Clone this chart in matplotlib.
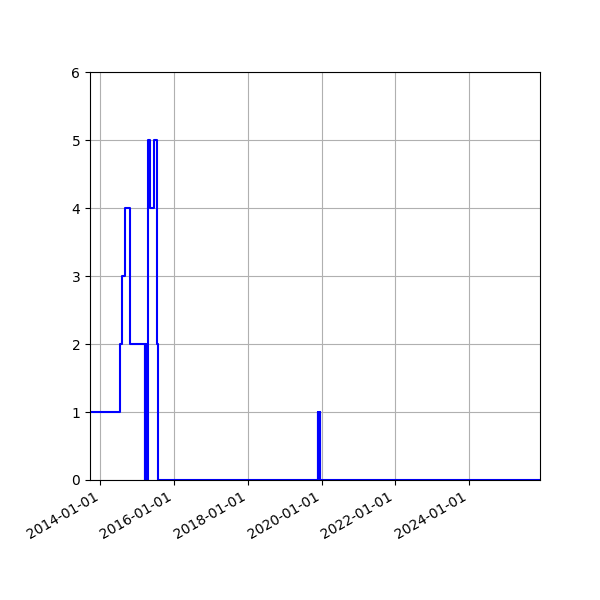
import matplotlib
matplotlib.use("Agg")
import matplotlib.pyplot as plt
import matplotlib.dates as mdates
import pandas as pd

change_dates = [
    "2013-09-20", "2014-07-11", "2014-08-05", "2014-08-30", "2014-10-24",
    "2015-03-16", "2015-03-20", "2015-03-24", "2015-03-28", "2015-04-01",
    "2015-04-13", "2015-05-10", "2015-06-14", "2015-07-20", "2015-07-23",
    "2019-11-27", "2019-12-01", "2019-12-05", "2019-12-09", "2019-12-13",
    "2019-12-17", "2025-12-05",
]
values = [
    1, 2, 3, 4, 2,
    0, 2, 0, 2, 0,
    5, 4, 5, 2, 0,
    1, 0, 1, 0, 1,
    0, 0,
]
tick_years = ["2014-01-01", "2016-01-01", "2018-01-01", "2020-01-01",
              "2022-01-01", "2024-01-01"]

x = pd.to_datetime(change_dates)
fig = plt.figure(figsize=(6, 6), dpi=100)
ax = fig.add_subplot(111)
ax.step(x, values, where="post", color="blue", linewidth=1.5)
ax.set_xlim(x[0], x[-1])
ax.set_ylim(0, 6)
ax.set_xticks(pd.to_datetime(tick_years))
ax.xaxis.set_major_formatter(mdates.DateFormatter("%Y-%m-%d"))
ax.grid(True)
fig.autofmt_xdate()
fig.subplots_adjust(left=0.15, right=0.9, top=0.88, bottom=0.2)
fig.savefig("out.png", dpi=100)
